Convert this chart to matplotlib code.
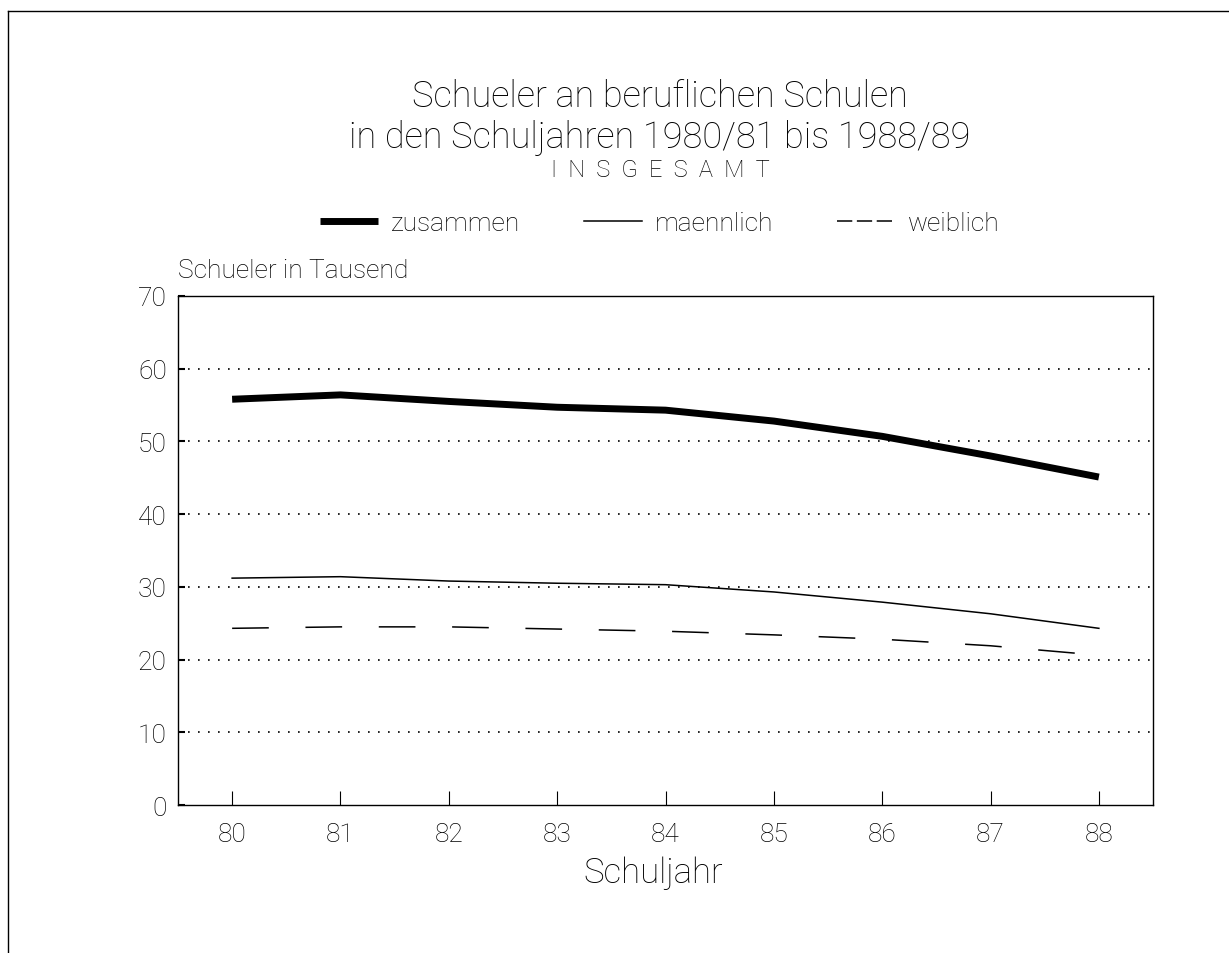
import matplotlib
matplotlib.use('Agg')
import matplotlib.pyplot as plt
from matplotlib.lines import Line2D

plt.rcParams['font.family'] = ['Roboto', 'DejaVu Sans']

# Schuljahre (80 = 1980/81 ...)
jahre = [80, 81, 82, 83, 84, 85, 86, 87, 88]
zusammen = [55.8, 56.4, 55.5, 54.7, 54.3, 52.8, 50.7, 48.0, 45.1]
maennlich = [31.2, 31.4, 30.8, 30.5, 30.3, 29.3, 27.9, 26.3, 24.3]
weiblich = [24.3, 24.5, 24.5, 24.2, 23.9, 23.4, 22.8, 21.9, 20.6]
yticks = [0, 10, 20, 30, 40, 50, 60, 70]

fig = plt.figure(figsize=(12.29, 9.54), dpi=100)
ax = fig.add_axes([0.1448, 0.1551, 0.7934, 0.5336])

ax.plot(jahre, zusammen, color='black', lw=5, solid_capstyle='butt')
ax.plot(jahre, maennlich, color='black', lw=1.1)
ax.plot(jahre, weiblich, color='black', lw=1.1, linestyle=(0, (24, 24)))

ax.set_xlim(79.5, 88.5)
ax.set_ylim(0, 70)
ax.set_xticks(jahre)
ax.set_xticklabels([str(j) for j in jahre])
ax.set_yticks(yticks)
for y in yticks[1:-1]:
    ax.axhline(y, color='black', lw=1.2, linestyle=(0, (1, 5)), zorder=0)

ax.tick_params(axis='x', direction='in', length=10, width=0.8, labelsize=19, pad=12)
ax.tick_params(axis='y', direction='in', length=5, width=1.5, labelsize=19, pad=8)
for s in ax.spines.values():
    s.set_linewidth(1.0)

for lab in ax.get_xticklabels() + ax.get_yticklabels():
    lab.set_fontweight('light')

ax.set_xlabel('Schuljahr', fontsize=25, fontweight='light', labelpad=10)
ax.xaxis.set_label_coords(0.487, -0.1)
ax.xaxis.label.set_va('top')
fig.text(0.145, 0.709, 'Schueler in Tausend', fontsize=19, fontweight='light',
         ha='left', va='baseline')

# Titel
fig.text(0.537, 0.898, 'Schueler an beruflichen Schulen', fontsize=26,
         fontweight='light', ha='center', va='center')
fig.text(0.537, 0.855, 'in den Schuljahren 1980/81 bis 1988/89', fontsize=26,
         fontweight='light', ha='center', va='center')
fig.text(0.537, 0.821, 'I  N  S  G  E  S  A  M  T', fontsize=17,
         fontweight='light', ha='center', va='center')

# Legende
handles = [Line2D([], [], color='black', lw=5, solid_capstyle='butt'),
           Line2D([], [], color='black', lw=1.1),
           Line2D([], [], color='black', lw=1.1, linestyle=(0, (10, 3)))]
leg = fig.legend(handles, ['zusammen', 'maennlich', 'weiblich'], ncol=3,
                 loc='center', bbox_to_anchor=(0.537, 0.765), frameon=False,
                 fontsize=19, handlelength=2.2, columnspacing=2.4,
                 handletextpad=0.5)
for t in leg.get_texts():
    t.set_fontweight('light')

# Rahmen um das Blatt
fig.add_artist(Line2D([0.0065, 1.0], [0.987, 0.987], color='black', lw=1.0,
                      transform=fig.transFigure))
fig.add_artist(Line2D([0.0065, 0.0065], [0.0, 0.987], color='black', lw=1.0,
                      transform=fig.transFigure))

fig.savefig('out.png', dpi=100)
